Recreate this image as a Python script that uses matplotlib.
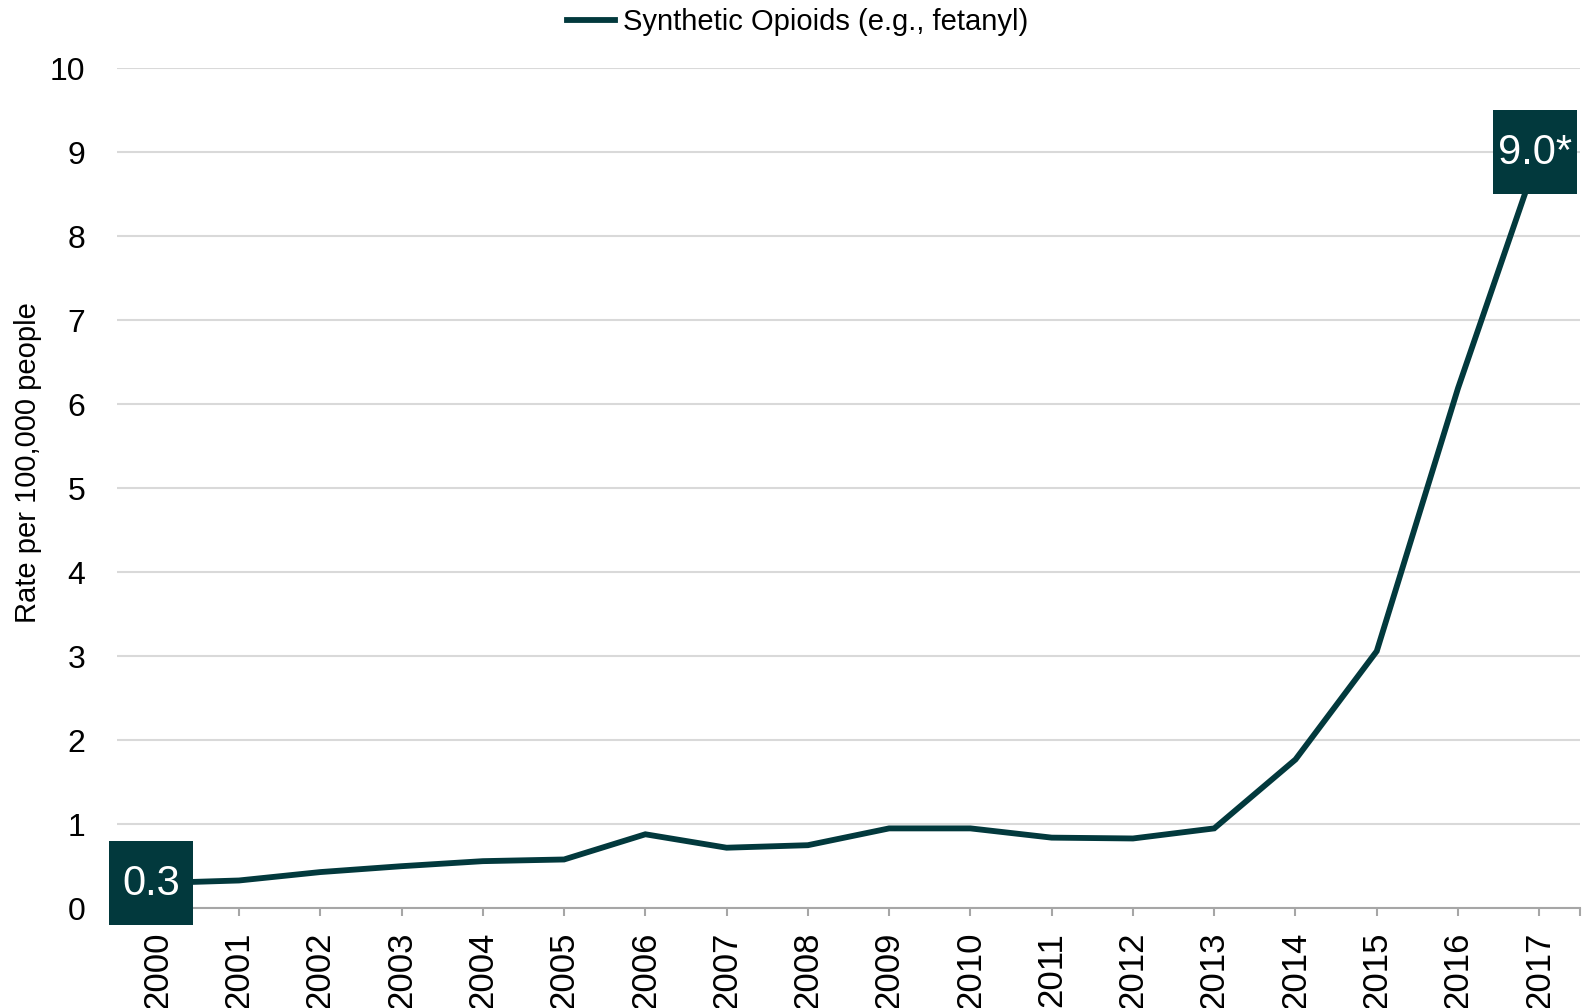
import matplotlib
matplotlib.use("Agg")
import matplotlib.pyplot as plt
from matplotlib.offsetbox import AnnotationBbox, DrawingArea
from matplotlib.patches import Rectangle
from matplotlib.text import Text
import numpy as np

years = [str(y) for y in range(2000, 2018)]
rate = [0.30, 0.33, 0.43, 0.50, 0.56, 0.58, 0.88, 0.72, 0.75, 0.95,
        0.95, 0.84, 0.83, 0.95, 1.77, 3.06, 6.19, 9.0]
series_name = "Synthetic Opioids (e.g., fetanyl)"
first_label = "0.3"
last_label = "9.0*"

teal = "#02393d"
plt.rcParams['font.family'] = ['Liberation Sans', 'DejaVu Sans']

fig = plt.figure(figsize=(15.82, 10.08), dpi=100)
ax = fig.add_axes([0.074, 0.099, 0.9247, 0.8335])

x = np.arange(len(years))
ax.plot(x, rate, color=teal, lw=4.2, solid_joinstyle='miter', label=series_name, zorder=3)

ax.set_xlim(-0.5, len(years) - 0.5)
ax.set_ylim(0, 10)
ax.set_yticks(range(0, 11))
ax.tick_params(axis='y', length=0, pad=23, labelsize=23)
ax.set_xticks(list(x) + [len(years) - 0.5])
ax.set_xticklabels(years + [""], rotation=90)
ax.tick_params(axis='x', length=6, width=1.5, color='#a6a6a6', pad=11, labelsize=25)
ax.grid(axis='y', color='#d9d9d9', lw=1.5)
ax.set_axisbelow(True)
for s in ['top', 'right', 'left']:
    ax.spines[s].set_visible(False)
ax.spines['bottom'].set_color('#a6a6a6')
ax.spines['bottom'].set_linewidth(1.5)
ax.set_ylabel("Rate per 100,000 people", fontsize=21)
ax.yaxis.set_label_coords(-0.0515, 0.53)


def callout(label, xi, yi, dx):
    # fixed-size dark box with the value centred in it
    w, h = 60.5, 60.0
    da = DrawingArea(w, h, 0, 0)
    da.add_artist(Rectangle((0, 0), w, h, fc=teal, ec='none'))
    da.add_artist(Text(w / 2, h / 2 - 1, label, color='white', fontsize=30,
                       ha='center', va='center'))
    ab = AnnotationBbox(da, (xi, yi), xybox=(dx, 0), boxcoords='offset points',
                        frameon=False, pad=0, box_alignment=(0.5, 0.5),
                        annotation_clip=False, zorder=5)
    ax.add_artist(ab)


callout(first_label, x[0], rate[0], -5)
callout(last_label, x[-1], rate[-1], -3)

fig.legend(loc='center', bbox_to_anchor=(0.504, 0.978), frameon=False, fontsize=21,
           handlelength=1.65, handletextpad=0.28)

fig.savefig("out.png", dpi=100)
